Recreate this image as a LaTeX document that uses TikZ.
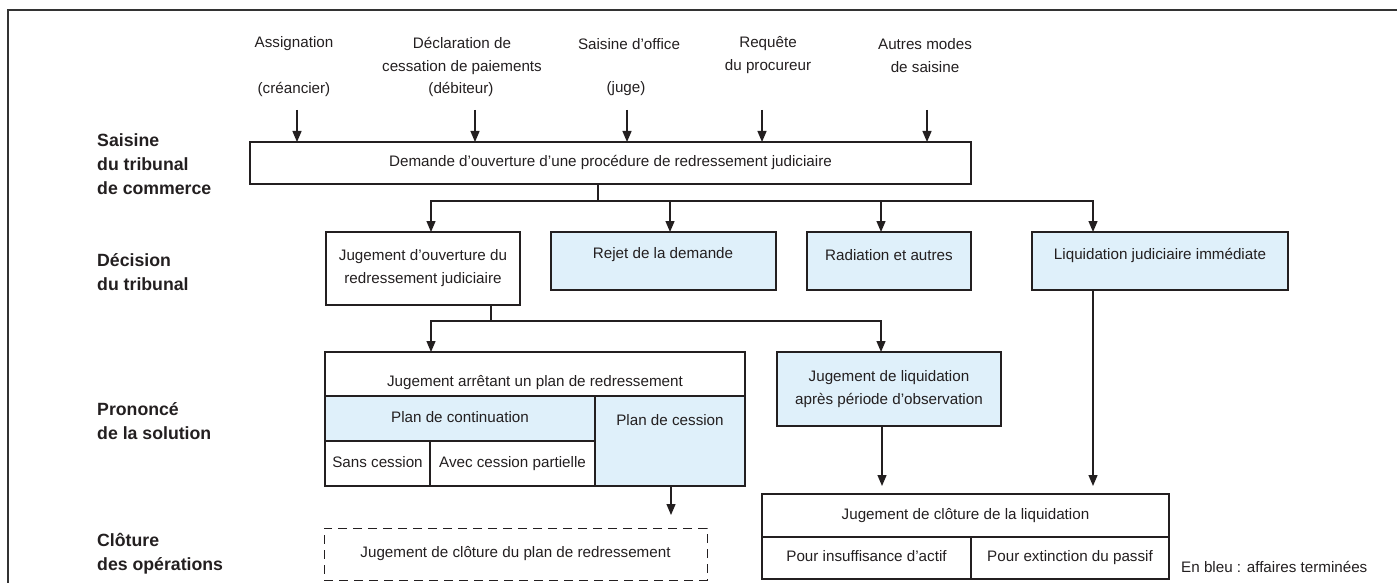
\documentclass[tikz,border=0pt]{standalone}
\usepackage{fontspec}
\setmainfont{Liberation Sans}
\usetikzlibrary{arrows.meta}
\definecolor{ink}{HTML}{231F20}
\definecolor{bluefill}{HTML}{DFF0FA}
\newcommand\regfont{\fontsize{15.2}{23}\selectfont}
\newcommand\lblfont{\bfseries\fontsize{17.7}{24}\selectfont}
\begin{document}
\begin{tikzpicture}[x=1pt,y=-1pt,
  box/.style={draw=ink, line width=1.1pt, inner sep=0pt, outer sep=0pt, anchor=north west, align=center, font=\regfont, text=ink},
  bluebox/.style={box, fill=bluefill},
  one/.style={text height=11pt, text depth=3.5pt},
  txt/.style={inner sep=0pt, align=center, font=\regfont, text=ink},
  lab/.style={inner sep=0pt, anchor=west, align=left, font=\lblfont, text=ink},
  arr/.style={draw=ink, line width=1.3pt, -{Triangle[width=9pt,length=11pt]}},
  conn/.style={draw=ink, line width=1.3pt}]
\useasboundingbox (0,0) rectangle (1397,583);
% frame
\draw[draw=black!80, line width=2pt] (8,583) -- (8,10) -- (1397,10);

% top labels
\node[txt] (t1) at (294,44) {Assignation};
\node[txt] (t1b) at (294,89) {(créancier)};
\node[txt] (t2) at (462,55.5) {Déclaration de\\cessation de paiements};
\node[txt] (t2b) at (461,89) {(débiteur)};
\node[txt] (t3) at (629,44) {Saisine d’office};
\node[txt] (t3b) at (626,89) {(juge)};
\node[txt] (t4) at (768,55.5) {Requête\\du procureur};
\node[txt] (t5) at (925,55.5) {Autres modes\\de saisine};

% left labels
\node[lab] (l1) at (97,164) {Saisine\\du tribunal\\de commerce};
\node[lab] (l2) at (97,272) {Décision\\du tribunal};
\node[lab] (l3) at (97,421) {Prononcé\\de la solution};
\node[lab] (l4) at (97,554) {Clôture\\des opérations};

% boxes
\node[box, one, minimum width=721, minimum height=42] (dem) at (250,142) {Demande d’ouverture d’une procédure de redressement judiciaire};
\node[box, minimum width=194, minimum height=73] (jo) at (326,232) {Jugement d’ouverture du\\redressement judiciaire};
\node[bluebox, minimum width=225, minimum height=58] (rej) at (551,232) {};
\node[bluebox, minimum width=164, minimum height=58] (rad) at (807,232) {};
\node[bluebox, minimum width=256, minimum height=58] (liq) at (1032,232) {};
\node[txt] (rejt) at (663,255) {Rejet de la demande};
\node[txt] (radt) at (889,255) {Radiation et autres};
\node[txt] (liqt) at (1160,255) {Liquidation judiciaire immédiate};

\node[box, minimum width=420, minimum height=44] (ja) at (325,352) {};
\node[txt] (jat) at (535,383) {Jugement arrêtant un plan de redressement};
\node[bluebox, one, minimum width=270, minimum height=45] (pcont) at (325,396) {Plan de continuation};
\node[bluebox, minimum width=150, minimum height=90] (pces) at (595,396) {};
\node[txt] (pcest) at (670,420) {Plan de cession};
\node[box, one, minimum width=105, minimum height=45] (sans) at (325,441) {Sans cession};
\node[box, one, minimum width=165, minimum height=45] (avec) at (430,441) {Avec cession partielle};

\node[bluebox, minimum width=224, minimum height=74] (jl) at (777,352) {Jugement de liquidation\\après période d’observation};

\node[box, one, line width=1pt, dash pattern=on 9pt off 6pt, minimum width=383, minimum height=52] (dsh) at (324,528) {Jugement de clôture du plan de redressement};

\node[box, one, minimum width=407, minimum height=43] (cl) at (762,494) {Jugement de clôture de la liquidation};
\node[box, one, minimum width=209, minimum height=42] (ins) at (762,537) {Pour insuffisance d’actif};
\node[box, one, minimum width=198, minimum height=42] (ext) at (971,537) {Pour extinction du passif};

\node[txt, anchor=west] (leg) at (1181,567) {En bleu : affaires terminées};

% top arrows
\coordinate (s1) at (297,110);
\coordinate (s2) at (475,110);
\coordinate (s3) at (627,110);
\coordinate (s4) at (762,110);
\coordinate (s5) at (927,110);
\foreach \s in {s1,s2,s3,s4,s5} \draw[arr] (\s) -- (\s |- dem.north);

% decision connectors
\coordinate (d0) at (598,201);
\coordinate (dL) at (431,201);
\coordinate (dB) at (670,201);
\coordinate (dC) at (881,201);
\coordinate (dR) at (1093,201);
\draw[conn] (dem.south -| d0) -- (d0);
\draw[conn, line cap=rect] (dL) -- (dR);
\draw[arr] (dL) -- (dL |- jo.north);
\draw[arr] (dB) -- (dB |- rej.north);
\draw[arr] (dC) -- (dC |- rad.north);
\draw[arr] (dR) -- (dR |- liq.north);

% second connectors
\coordinate (e0) at (491,321);
\coordinate (eL) at (431,321);
\coordinate (eR) at (881,321);
\draw[conn] (jo.south -| e0) -- (e0);
\draw[conn, line cap=rect] (eL) -- (eR);
\draw[arr] (eL) -- (eL |- ja.north);
\draw[arr] (eR) -- (eR |- jl.north);

% lower arrows
\coordinate (f1) at (671,515);
\draw[arr] (pces.south -| f1) -- (f1);
\coordinate (g1) at (882,486);
\coordinate (g2) at (1093,486);
\draw[arr] (jl.south -| g1) -- (g1);
\draw[arr] (liq.south -| g2) -- (g2);
\end{tikzpicture}
\end{document}
